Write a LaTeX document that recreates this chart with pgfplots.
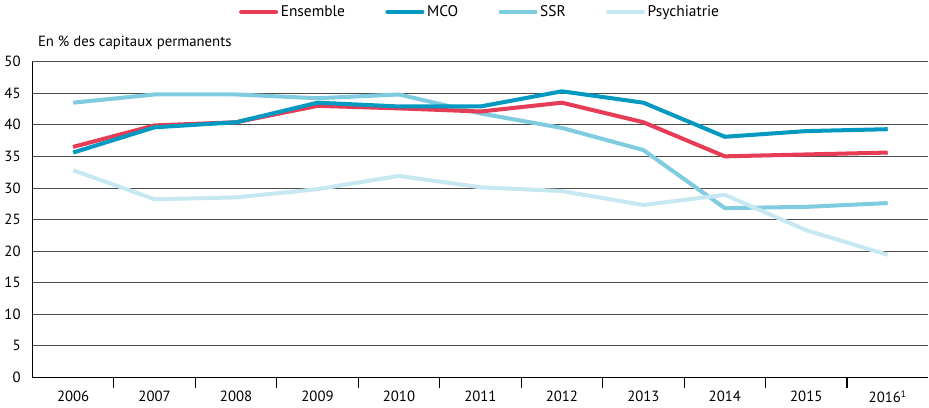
\documentclass[border=0pt]{standalone}
\usepackage{fontspec}
\setmainfont{PT Sans}
\usepackage{pgfplots}
\pgfplotsset{compat=1.18}
\definecolor{cEns}{HTML}{E63C55}
\definecolor{cMCO}{HTML}{0399C0}
\definecolor{cSSR}{HTML}{7FCCE0}
\definecolor{cPsy}{HTML}{C7E8F1}

\begin{document}
\begin{tikzpicture}
\begin{axis}[
  scale only axis, width=667pt, height=235pt,
  font=\fontsize{11}{13}\selectfont,
  /pgf/number format/assume math mode=true,
  axis x line*=bottom, axis y line*=left,
  axis line style={black, line width=0.8pt},
  xmin=-0.5, xmax=10.5, ymin=0, ymax=50,
  xtick={0,...,10},
  xticklabels={2006,2007,2008,2009,2010,2011,2012,2013,2014,2015,2016\textsuperscript{\scriptsize 1}},
  major x tick style={draw=none},
  minor xtick={0.5,1.5,...,9.5},
  minor x tick style={black, line width=0.8pt},
  tick align=outside, minor tick length=8pt,
  ytick={0,5,...,50}, major y tick style={draw=none},
  ymajorgrids, grid style={black!70, line width=0.6pt},
  yticklabel style={xshift=-1pt},
  xticklabel style={yshift=-2pt},
  legend columns=4,
  legend style={at={(0.5,1)}, anchor=south, yshift=28pt, draw=none,
    /tikz/every even column/.style={column sep=28pt},
    font=\fontsize{11.5}{13}\selectfont},
  legend image code/.code={\draw[#1, line cap=round] (0pt,0pt) -- (26pt,0pt);},
  every axis plot/.append style={line width=3pt, line join=round},
  clip=false,
]
\addplot[cSSR, forget plot] coordinates {(0,43.5)(1,44.8)(2,44.8)(3,44.2)(4,44.8)(5,41.8)(6,39.5)(7,36.0)(8,26.8)(9,27.0)(10,27.6)};
\addplot[cPsy, forget plot] coordinates {(0,32.8)(1,28.2)(2,28.5)(3,29.8)(4,31.9)(5,30.1)(6,29.5)(7,27.3)(8,28.9)(9,23.3)(10,19.4)};
\addplot[cEns, forget plot] coordinates {(0,36.5)(1,39.9)(2,40.4)(3,43.0)(4,42.6)(5,42.1)(6,43.5)(7,40.4)(8,35.0)(9,35.3)(10,35.6)};
\addplot[cMCO, forget plot] coordinates {(0,35.6)(1,39.6)(2,40.4)(3,43.5)(4,42.9)(5,42.9)(6,45.3)(7,43.5)(8,38.1)(9,39.0)(10,39.3)};
\addlegendimage{cEns, line width=3pt}\addlegendentry{Ensemble}
\addlegendimage{cMCO, line width=3pt}\addlegendentry{MCO}
\addlegendimage{cSSR, line width=3pt}\addlegendentry{SSR}
\addlegendimage{cPsy, line width=3pt}\addlegendentry{Psychiatrie}
\node[anchor=south west, inner sep=0pt, font=\fontsize{11}{13}\selectfont] at ([xshift=4pt,yshift=9pt]rel axis cs:0,1) {En \% des capitaux permanents};
\end{axis}
\end{tikzpicture}
\end{document}
